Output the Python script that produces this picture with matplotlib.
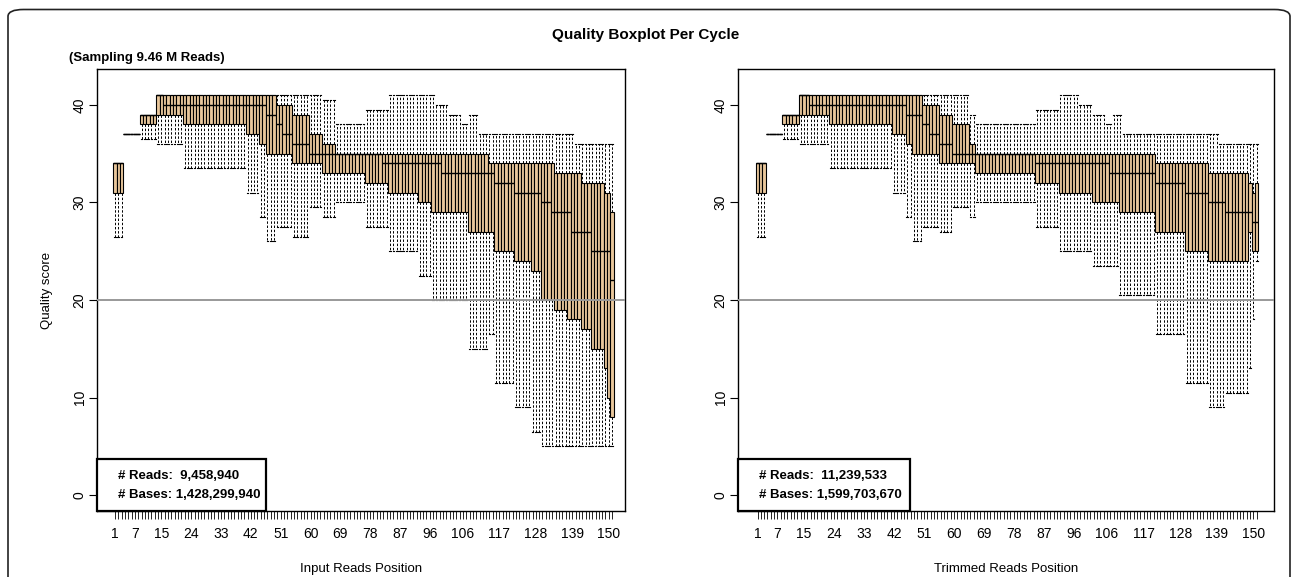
import numpy as np
import matplotlib
matplotlib.use('Agg')
import matplotlib.pyplot as plt
from matplotlib.patches import FancyBboxPatch, Rectangle

plt.rcParams['font.family'] = ['Liberation Sans', 'DejaVu Sans']

# ---- data: (value, run length) per cycle position 1..151 ----
left_q3 = [(34, 3), (37, 5), (39, 5), (41, 36), (40, 5), (39, 5), (37, 4), (36, 4),
           (35, 46), (34, 20), (33, 8), (32, 7), (31, 2), (29, 1)]
left_q1 = [(31, 3), (37, 5), (38, 5), (39, 8), (38, 19), (37, 4), (36, 2), (35, 8),
           (34, 9), (33, 13), (32, 7), (31, 9), (30, 4), (29, 11), (27, 8), (25, 6),
           (24, 5), (23, 3), (20, 4), (19, 4), (18, 4), (17, 3), (15, 4), (13, 1),
           (10, 1), (8, 1)]
left_med = [(34, 3), (37, 5), (39, 5), (41, 2), (40, 31), (39, 3), (38, 2), (37, 3),
            (36, 5), (35, 22), (34, 18), (33, 16), (32, 6), (31, 8), (30, 3), (29, 6),
            (27, 6), (25, 6), (22, 1)]
left_hi = [(34, 3), (37, 5), (39, 5), (41, 50), (40.5, 4), (38, 9), (39.5, 7), (41, 14),
           (40, 4), (39, 4), (38, 2), (39, 3), (37, 29), (36, 12)]
left_lo = [(26.5, 3), (37, 5), (36.5, 5), (36, 8), (33.5, 19), (31, 4), (28.5, 2),
           (26, 3), (27.5, 5), (26.5, 5), (29.5, 4), (28.5, 4), (30, 9), (27.5, 7),
           (25, 9), (22.5, 4), (20, 11), (15, 6), (16.5, 2), (11.5, 6), (9, 5),
           (6.5, 3), (5, 22)]

right_q3 = [(34, 3), (37, 5), (39, 5), (41, 37), (40, 5), (39, 4), (38, 5), (36, 2),
            (35, 54), (34, 16), (33, 12), (32, 1), (31, 1), (32, 1)]
right_q1 = [(31, 3), (37, 5), (38, 5), (39, 9), (38, 19), (37, 4), (36, 2), (35, 8),
            (34, 11), (33, 18), (32, 7), (31, 10), (30, 8), (29, 11), (27, 9), (25, 7),
            (24, 12), (27, 1), (25, 2)]
right_med = [(34, 3), (37, 5), (39, 5), (41, 3), (40, 29), (39, 5), (38, 2), (37, 3),
             (36, 4), (35, 25), (34, 22), (33, 14), (32, 9), (31, 7), (30, 5), (29, 7),
             (29, 1), (28, 1), (28, 1)]
right_hi = [(34, 3), (37, 5), (39, 5), (41, 51), (39, 2), (38, 18), (39.5, 7), (41, 6),
            (40, 4), (39, 4), (38, 2), (39, 3), (37, 29), (36, 12)]
right_lo = [(26.5, 3), (37, 5), (36.5, 5), (36, 9), (33.5, 19), (31, 4), (28.5, 2),
            (26, 3), (27.5, 5), (27, 4), (29.5, 5), (28.5, 2), (30, 18), (27.5, 7),
            (25, 10), (23.5, 8), (20.5, 11), (16.5, 9), (11.5, 7), (9, 5), (10.5, 7),
            (13, 1), (18, 1), (24, 1)]

x_labels = [1, 7, 15, 24, 33, 42, 51, 60, 69, 78, 87, 96, 106, 117, 128, 139, 150]
y_ticks = [0, 10, 20, 30, 40]

BOX = '#E9C79C'
W, H = 1292, 577


def expand(runs):
    return np.concatenate([np.full(n, v, dtype=float) for v, n in runs])


def px_axes(x0, x1, y0, y1):
    return fig.add_axes([x0 / W, 1 - y1 / H, (x1 - x0) / W, (y1 - y0) / H])


def panel(ax, q1, med, q3, lo, hi, xlim, reads, bases, xlabel):
    q1, med, q3, lo, hi = [expand(r) for r in (q1, med, q3, lo, hi)]
    n = len(q1)
    pos = np.arange(1, n + 1)
    stats = [dict(med=med[i], q1=q1[i], q3=q3[i], whislo=lo[i], whishi=hi[i], fliers=[])
             for i in range(n)]
    ax.bxp(stats, positions=pos, widths=1.0, capwidths=0.5, patch_artist=True,
           showfliers=False, manage_ticks=False,
           boxprops=dict(facecolor=BOX, edgecolor='black', linewidth=0.8),
           whiskerprops=dict(color='black', linewidth=0.7, linestyle=(0, (2.5, 1.8))),
           capprops=dict(color='black', linewidth=0.8),
           medianprops=dict(color='black', linewidth=1.0))
    ax.axhline(20, color='#999999', lw=1.4, zorder=4)
    ax.set_xlim(*xlim)
    ax.set_ylim(-1.64, 43.66)
    ax.set_xticks(pos)
    ax.set_xticklabels([str(p) if p in x_labels else '' for p in pos], fontsize=10)
    ax.tick_params(axis='x', length=5.5, width=0.6, pad=6)
    ax.set_yticks(y_ticks)
    ax.set_yticklabels([str(t) for t in y_ticks], rotation=90, va='center', fontsize=10)
    ax.tick_params(axis='y', length=5.5, width=0.8, pad=2)
    for s in ax.spines.values():
        s.set_linewidth(1.0)
    ax.add_patch(Rectangle((0, 0), 0.32, 0.118, transform=ax.transAxes, facecolor='white',
                           edgecolor='black', lw=1.6, zorder=6, clip_on=False))
    ax.text(0.04, 0.079, '# Reads:  ' + reads, transform=ax.transAxes, fontsize=9.5,
            fontweight='bold', va='center', zorder=7)
    ax.text(0.04, 0.036, '# Bases: ' + bases, transform=ax.transAxes, fontsize=9.5,
            fontweight='bold', va='center', zorder=7)
    x0, x1 = ax.get_position().x0, ax.get_position().x1
    fig.text((x0 + x1) / 2, 1 - 569 / H, xlabel, ha='center', va='center', fontsize=9.5)


fig = plt.figure(figsize=(W / 100, H / 100), dpi=100)
fig.patches.append(FancyBboxPatch((8 / W, -0.05), (1290 - 8) / W, (577 - 9.5) / H + 0.05,
                                  boxstyle='round,pad=0,rounding_size=0.012',
                                  transform=fig.transFigure, facecolor='none',
                                  edgecolor='#222222', lw=1.2))

ax1 = px_axes(97, 625, 69.3, 511)
panel(ax1, left_q1, left_med, left_q3, left_lo, left_hi, (-4.43, 154.9),
      '9,458,940', '1,428,299,940', 'Input Reads Position')
ax1.set_ylabel('Quality score', fontsize=9.5, labelpad=14)

ax2 = px_axes(738, 1274, 69.3, 511)
panel(ax2, right_q1, right_med, right_q3, right_lo, right_hi, (-4.86, 156.2),
      '11,239,533', '1,599,703,670', 'Trimmed Reads Position')

fig.text(646 / W, 1 - 35 / H, 'Quality Boxplot Per Cycle', ha='center', va='center',
         fontsize=11, fontweight='bold')
fig.text(69 / W, 1 - 58 / H, '(Sampling 9.46 M Reads)', ha='left', va='center',
         fontsize=9.5, fontweight='bold')

fig.savefig('out.png', dpi=100)
